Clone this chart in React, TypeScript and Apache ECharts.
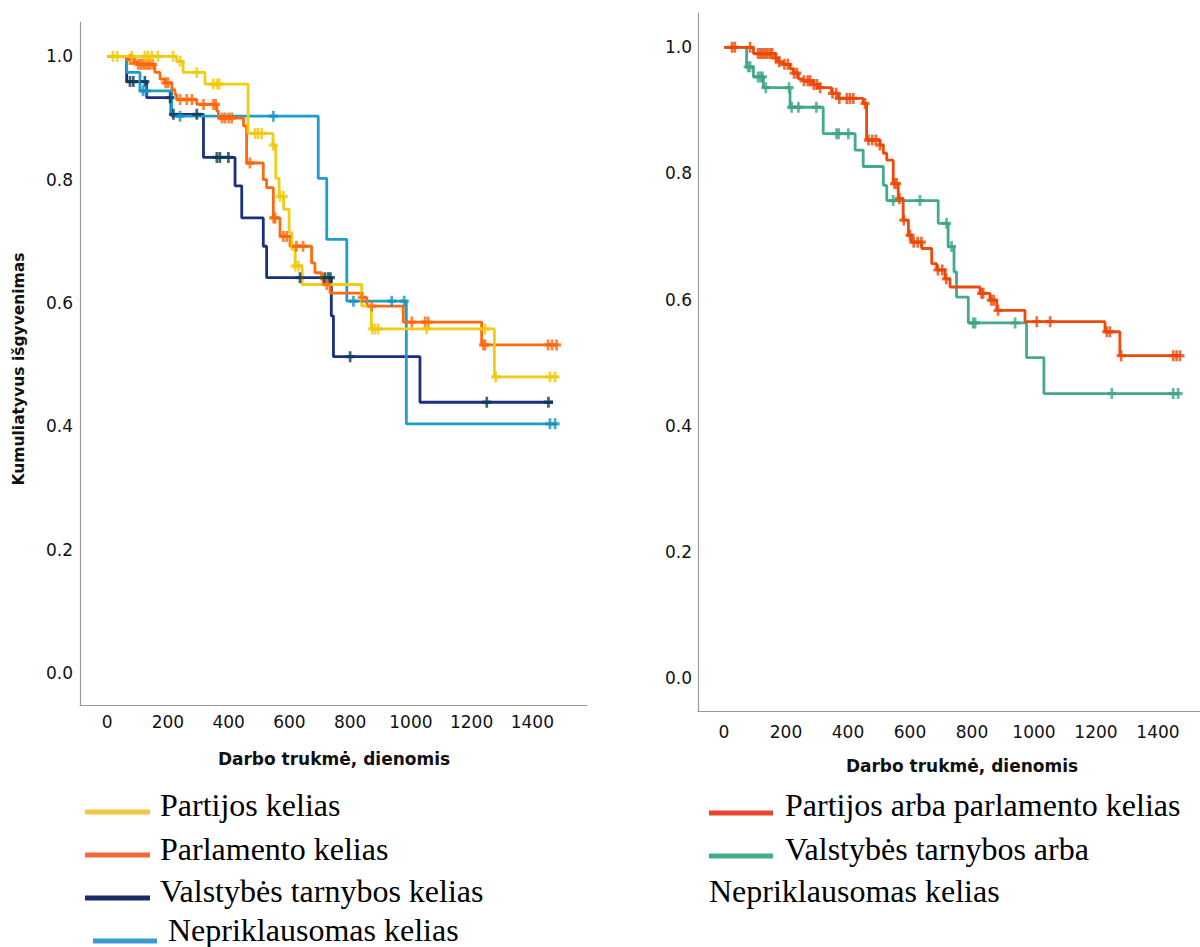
import React, { useEffect, useRef } from "react";
import * as echarts from "echarts";

// ---------- Left panel: four groups (Kaplan–Meier step curves) ----------
const partijosT = [0, 229, 250, 322, 464, 546, 555, 566, 581, 599, 608, 619, 642, 838, 870, 1275, 1481];
const partijosS = [1.0, 0.992, 0.974, 0.955, 0.875, 0.856, 0.802, 0.773, 0.752, 0.714, 0.687, 0.66, 0.63, 0.595, 0.558, 0.48, 0.48];
const partijosC = [19, 33, 81, 124, 134, 147, 167, 217, 240, 295, 349, 362, 369, 487, 497, 509, 547, 569, 580, 619, 630, 873, 882, 893, 1052, 1244, 1279, 1458, 1475];

const parlamentoT = [0, 64, 86, 102, 157, 174, 190, 213, 223, 229, 295, 361, 366, 449, 459, 514, 525, 547, 569, 602, 673, 684, 706, 712, 734, 838, 855, 975, 1233, 1485];
const parlamentoS = [1.0, 0.995, 0.99, 0.987, 0.974, 0.963, 0.957, 0.946, 0.938, 0.93, 0.922, 0.911, 0.9, 0.887, 0.827, 0.8, 0.787, 0.738, 0.708, 0.692, 0.665, 0.649, 0.638, 0.63, 0.616, 0.609, 0.595, 0.569, 0.532, 0.532];
const parlamentoC = [75, 82, 102, 110, 118, 125, 133, 140, 150, 192, 200, 240, 262, 279, 317, 350, 357, 378, 388, 400, 410, 470, 548, 553, 580, 591, 623, 645, 723, 840, 871, 1003, 1047, 1057, 1239, 1244, 1452, 1465, 1480];

const valstybesT = [0, 64, 130, 210, 317, 421, 443, 514, 525, 738, 745, 1030, 1468];
const valstybesS = [1.0, 0.959, 0.933, 0.906, 0.836, 0.79, 0.738, 0.692, 0.641, 0.579, 0.513, 0.439, 0.439];
const valstybesC = [75, 86, 124, 207, 218, 295, 361, 371, 399, 635, 716, 727, 735, 800, 1250, 1453];

const nepriklT = [0, 64, 108, 212, 695, 723, 789, 985, 1481];
const nepriklS = [1.0, 0.974, 0.944, 0.903, 0.802, 0.703, 0.603, 0.404, 0.404];
const nepriklC = [118, 128, 240, 547, 811, 937, 978, 1458, 1475];

// ---------- Right panel: two merged groups ----------
const partParlT = [0, 95, 165, 175, 191, 213, 224, 240, 256, 288, 304, 347, 369, 449, 460, 503, 514, 525, 546, 562, 578, 595, 605, 638, 670, 686, 713, 729, 826, 858, 880, 971, 1229, 1277, 1471];
const partParlS = [1.0, 0.99, 0.983, 0.977, 0.973, 0.966, 0.959, 0.95, 0.947, 0.941, 0.936, 0.927, 0.919, 0.911, 0.853, 0.845, 0.832, 0.821, 0.784, 0.76, 0.726, 0.702, 0.691, 0.681, 0.657, 0.647, 0.633, 0.62, 0.61, 0.599, 0.583, 0.565, 0.549, 0.511, 0.511];
const partParlC = [26, 35, 84, 110, 118, 125, 133, 140, 148, 155, 168, 178, 195, 206, 226, 235, 258, 270, 278, 290, 300, 310, 350, 362, 372, 396, 406, 417, 455, 466, 478, 490, 503, 550, 557, 566, 580, 600, 612, 625, 637, 690, 704, 717, 831, 836, 862, 870, 884, 1009, 1052, 1235, 1245, 1281, 1449, 1460, 1471];

const valstNeprT = [0, 73, 95, 127, 213, 320, 423, 449, 514, 525, 691, 723, 742, 750, 788, 976, 1032, 1471];
const valstNeprS = [1.0, 0.969, 0.953, 0.936, 0.905, 0.863, 0.837, 0.811, 0.781, 0.757, 0.721, 0.684, 0.644, 0.604, 0.563, 0.508, 0.451, 0.451];
const valstNeprC = [78, 84, 110, 118, 124, 135, 210, 218, 240, 298, 363, 370, 401, 546, 632, 718, 734, 804, 810, 939, 1251, 1449, 1465];

const xTicks = [0, 200, 400, 600, 800, 1000, 1200, 1400];
const yTicks = [0, 0.2, 0.4, 0.6, 0.8, 1.0];

const xTitle = "Darbo trukmė, dienomis";
const yTitle = "Kumuliatyvus išgyvenimas";

const PLUS = "path://M3.5,0 L6.5,0 L6.5,3.5 L10,3.5 L10,6.5 L6.5,6.5 L6.5,10 L3.5,10 L3.5,6.5 L0,6.5 L0,3.5 L3.5,3.5 Z";

function stepData(T: number[], S: number[]) {
  return T.map((t, i) => [t, S[i]]);
}
function censorData(T: number[], S: number[], C: number[]) {
  return C.map((c) => {
    let v = S[0];
    for (let i = 0; i < T.length; i++) if (T[i] <= c) v = S[i];
    return [c, v];
  });
}

function km(name: string, idx: number, T: number[], S: number[], C: number[], color: string, markColor: string) {
  return [
    {
      name,
      type: "line",
      step: "end",
      xAxisIndex: idx,
      yAxisIndex: idx,
      data: stepData(T, S),
      showSymbol: false,
      symbol: "none",
      lineStyle: { color, width: 2.8 },
      z: 2,
    },
    {
      name: name + "-c",
      type: "scatter",
      xAxisIndex: idx,
      yAxisIndex: idx,
      data: censorData(T, S, C),
      symbol: PLUS,
      symbolSize: [9, 11],
      itemStyle: { color: markColor },
      z: 3,
    },
  ];
}

const labelFont = { fontFamily: "DejaVu Sans", fontSize: 17, color: "#111" };

function xAxis(idx: number, min: number, max: number, margin: number) {
  return {
    gridIndex: idx,
    type: "value",
    min,
    max,
    axisLine: { show: true, onZero: false, lineStyle: { color: "#9b9b9b", width: 1.2 } },
    axisTick: { show: false },
    splitLine: { show: false },
    axisLabel: { ...labelFont, margin, customValues: xTicks, formatter: (v: number) => String(v) },
  };
}
function yAxis(idx: number, min: number, max: number, margin: number) {
  return {
    gridIndex: idx,
    type: "value",
    min,
    max,
    axisLine: { show: true, onZero: false, lineStyle: { color: "#9b9b9b", width: 1.2 } },
    axisTick: { show: false },
    splitLine: { show: false },
    axisLabel: { ...labelFont, margin, customValues: yTicks, formatter: (v: number) => v.toFixed(1) },
  };
}

function legendLine(x1: number, x2: number, y: number, color: string) {
  return { type: "line", shape: { x1, y1: y, x2, y2: y }, style: { stroke: color, lineWidth: 5 } };
}
function legendText(x: number, y: number, text: string) {
  return {
    type: "text",
    x,
    y,
    style: { text, fill: "#000", fontFamily: "Liberation Serif, Times New Roman, serif", fontSize: 32, verticalAlign: "middle", align: "left" },
  };
}

export default function App() {
  const ref = useRef<HTMLDivElement>(null);
  useEffect(() => {
    if (!ref.current) return;
    const chart = echarts.init(ref.current, null, { renderer: "svg" });
    const option: any = {
      animation: false,
      backgroundColor: "#fff",
      grid: [
        { left: 80, top: 22, width: 507, height: 683 },
        { left: 698, top: 13, width: 502, height: 698 },
      ],
      xAxis: [xAxis(0, -89.6, 1580, 8), xAxis(1, -83.9, 1535.5, 12)],
      yAxis: [yAxis(0, -0.052, 1.0557, 7), yAxis(1, -0.0523, 1.0544, 6)],
      series: [
        ...km("Valstybės tarnybos kelias", 0, valstybesT, valstybesS, valstybesC, "#1A2F7F", "#0D3D55"),
        ...km("Nepriklausomas kelias", 0, nepriklT, nepriklS, nepriklC, "#1D9DCB", "#1592BF"),
        ...km("Parlamento kelias", 0, parlamentoT, parlamentoS, parlamentoC, "#FF6A0E", "#FF660A"),
        ...km("Partijos kelias", 0, partijosT, partijosS, partijosC, "#F2CB13", "#F0C80C"),
        ...km("Valstybės tarnybos arba Nepriklausomas kelias", 1, valstNeprT, valstNeprS, valstNeprC, "#43A98F", "#3DA48A"),
        ...km("Partijos arba parlamento kelias", 1, partParlT, partParlS, partParlC, "#EE4A0C", "#EB4708"),
      ],
      graphic: [
        {
          type: "text",
          x: 334,
          y: 759,
          style: { text: xTitle, fill: "#111", fontFamily: "DejaVu Sans", fontWeight: "bold", fontSize: 17, align: "center", verticalAlign: "middle" },
        },
        {
          type: "text",
          x: 962,
          y: 766,
          style: { text: xTitle, fill: "#111", fontFamily: "DejaVu Sans", fontWeight: "bold", fontSize: 17, align: "center", verticalAlign: "middle" },
        },
        {
          type: "text",
          x: 19,
          y: 369,
          rotation: Math.PI / 2,
          style: { text: yTitle, fill: "#111", fontFamily: "DejaVu Sans", fontWeight: "bold", fontSize: 15.5, align: "center", verticalAlign: "middle" },
        },
        legendLine(85, 150, 812, "#F3C744"),
        legendText(160, 805, "Partijos kelias"),
        legendLine(85, 150, 855, "#F26A3B"),
        legendText(160, 849, "Parlamento kelias"),
        legendLine(85, 150, 898, "#1B2A6B"),
        legendText(160, 891, "Valstybės tarnybos kelias"),
        legendLine(93, 157, 941, "#3A9BD0"),
        legendText(168, 930, "Nepriklausomas kelias"),
        legendLine(709, 773, 813, "#E9442E"),
        legendText(785, 805, "Partijos arba parlamento kelias"),
        legendLine(709, 773, 856, "#46AA91"),
        legendText(785, 849, "Valstybės tarnybos arba"),
        legendText(709, 891, "Nepriklausomas kelias"),
      ],
    };
    chart.setOption(option);
    return () => chart.dispose();
  }, []);
  return <div ref={ref} style={{ width: 1200, height: 947, position: "absolute", left: 0, top: 0 }} />;
}
